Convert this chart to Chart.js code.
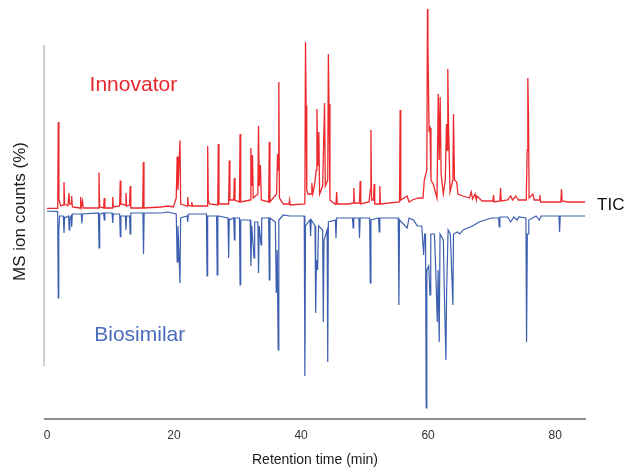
<!DOCTYPE html>
<html>
<head>
<meta charset="utf-8">
<script src="https://cdn.jsdelivr.net/npm/chart.js@4.4.1/dist/chart.umd.min.js"></script>
<style>
    body { margin: 0; background: #ffffff; }
    #wrap { width: 639px; height: 474px; }
</style>
</head>
<body>
<div id="wrap"><canvas id="tic" width="639" height="474"></canvas></div>
<script>

// retention time (min) and TIC signal (% of scale)
const innovatorTime = [
    0.0, 1.6, 1.7, 1.78, 1.88, 2.2, 2.58, 2.68, 2.78, 3.3, 3.46, 3.58, 3.79, 3.89, 4.0,
    5.2, 5.3, 5.4, 5.5, 5.6, 5.7, 8.09, 8.19, 8.29, 8.92, 9.02, 9.12, 10.25, 10.35, 10.45,
    11.44, 11.54, 11.64, 12.34, 12.44, 12.54, 13.0, 13.1, 13.2, 15.07, 15.17, 15.27,
    18.0, 19.0, 19.9, 20.35, 20.5, 20.62, 20.94, 21.05, 22.06, 22.16, 22.26, 22.7, 22.8, 22.9,
    25.2, 25.3, 25.4, 25.6, 26.88, 26.98, 27.08, 28.6, 28.7, 28.8, 29.4, 29.5, 29.6,
    30.3, 30.4, 30.5, 32.0, 32.1, 32.22, 32.35, 32.47, 33.2, 33.3, 33.42, 33.6, 33.75,
    34.9, 35.0, 35.1, 36.15, 36.3, 36.42, 36.5, 36.6, 37.2, 38.1, 38.2, 38.3,
    40.6, 40.7, 40.8, 40.9, 41.1, 41.6, 41.7, 41.85, 42.1, 42.4, 42.5, 42.63, 42.8, 42.92,
    43.4, 43.7, 43.82, 44.2, 44.3, 44.4, 44.55, 45.3, 45.5, 45.6, 45.7, 47.5,
    48.2, 48.3, 48.4, 49.2, 49.3, 49.4, 50.7, 50.9, 51.0, 51.1, 51.4, 51.5, 51.6,
    52.3, 52.4, 52.5, 55.5, 55.6, 55.7, 56.7, 57.0, 57.5, 58.5, 59.2, 59.4, 59.8,
    59.9, 59.97, 60.15, 60.3, 60.45, 60.8, 61.4, 61.6, 61.75, 61.9, 62.05, 62.4, 62.7,
    62.9, 63.0, 63.1, 63.22, 63.45, 63.9, 64.0, 64.15, 64.5, 64.7, 65.5, 66.5,
    66.8, 67.0, 67.4, 67.6, 67.7, 68.5, 70.2, 70.3, 70.4, 71.3, 71.4, 71.5,
    72.5, 73.0, 73.3, 73.8, 74.2, 75.45, 75.6, 75.7, 75.8, 75.9, 76.5, 76.7,
    77.5, 77.6, 77.7, 80.9, 81.0, 81.1, 82.0, 84.7
];
const innovatorSignal = [
    0.8, 0.8, 5, 44, 5, 2, 2.5, 14, 3, 2, 8.5, 3, 3, 7, 1.5,
    1, 6.5, 1.5, 1.5, 4.5, 1, 1, 18.7, 1.5, 1, 6, 1, 1, 6.5, 1.5,
    2, 14.7, 3, 2.5, 8.5, 2, 2.5, 12, 1, 1, 24, 1,
    1.5, 2, 1.5, 6, 26.7, 10, 34.7, 3, 2, 6.5, 2.5, 2, 4, 2,
    2, 32, 5, 3, 2.5, 33, 3, 3, 24.7, 5, 5, 16, 5,
    4, 38, 4, 5, 31, 12, 27.5, 6, 8, 42, 12, 22.5, 5,
    4, 34, 4, 8, 28, 20, 64, 6, 3, 3, 5, 2.5,
    3, 84, 52, 10, 8, 8, 13.5, 8, 12, 20, 50.5, 22, 39, 8,
    12, 53.5, 12, 15, 78, 53, 5, 3, 3, 9, 3, 3,
    3.5, 11, 3.5, 3.5, 14.5, 3, 4, 10, 40, 5, 5, 13, 3,
    3, 12, 3, 4, 50, 5, 7, 4, 5, 6, 6, 15, 20,
    100.5, 82, 40, 41, 15, 13, 6, 58, 25, 56.5, 18, 8, 15,
    43, 30, 70.5, 43, 9, 15, 48, 15, 14, 8, 7, 6,
    9, 5.5, 8, 5, 7, 4.5, 4.5, 7.5, 4, 4.5, 11, 4.5,
    5, 7, 5, 7, 5, 5, 30, 66, 48, 6, 8, 5,
    5, 7.5, 4, 4, 10.5, 4.5, 4, 4
];

const biosimilarTime = [
    0.0, 1.68, 1.78, 1.86, 1.98, 2.58, 2.68, 2.78, 3.4, 3.5, 3.6, 3.79, 3.89, 3.99,
    5.4, 5.5, 5.6, 8.1, 8.2, 8.3, 8.92, 9.02, 9.12, 10.25, 10.35, 10.45,
    11.44, 11.54, 11.64, 12.34, 12.44, 12.54, 13.0, 13.1, 13.2, 15.1, 15.2, 15.3,
    18.0, 19.0, 20.35, 20.5, 20.62, 20.94, 21.04, 22.06, 22.16, 22.26,
    25.1, 25.2, 25.3, 26.7, 26.8, 26.9, 28.5, 28.6, 28.7, 29.4, 29.5, 29.6,
    30.3, 30.4, 30.5, 32.0, 32.1, 32.25, 32.6, 32.7, 33.2, 33.3, 33.42, 33.7, 33.8,
    34.9, 35.0, 35.1, 35.95, 36.1, 36.25, 36.4, 36.5, 37.2, 38.2,
    40.5, 40.6, 40.7, 41.4, 41.5, 41.6, 42.2, 42.3, 42.42, 42.6, 42.75,
    43.4, 43.5, 43.62, 44.1, 44.2, 44.3, 45.4, 45.5, 45.6,
    48.1, 48.2, 48.3, 49.1, 49.2, 49.3, 50.8, 50.9, 51.0, 52.2, 52.3, 52.4,
    55.3, 55.4, 55.5, 56.7, 57.0, 57.7, 58.3, 59.0, 59.3, 59.45, 59.6, 59.7, 59.8,
    60.1, 60.3, 60.42, 61.0, 61.2, 61.45, 61.58, 61.75, 61.88, 62.4, 62.6, 62.8, 62.92,
    63.15, 63.5, 63.9, 64.0, 64.6, 65.0, 65.5, 66.2, 67.0, 68.0, 69.0, 70.0,
    71.1, 71.2, 71.3, 72.5, 73.0, 73.5, 74.0, 74.3, 75.4, 75.5, 75.62, 75.75, 75.85,
    77.0, 77.5, 77.8, 80.6, 80.7, 80.8, 84.7
];
const biosimilarSignal = [
    -0.5, -0.8, -44, -11, -3, -3, -11.5, -4, -3, -10, -4, -3, -8.3, -2,
    -2, -6.7, -2, -1.5, -19, -2, -1.5, -5, -1.5, -1.5, -6.5, -2,
    -2, -13.3, -3, -3, -10, -3, -3, -12, -1.5, -1.5, -22, -1.5,
    -1.5, -1, -2, -26, -8, -36.5, -4, -3, -6, -2,
    -2, -33, -3, -3, -32.5, -3, -4, -24, -5, -4, -15, -4,
    -4, -37.5, -5, -5, -28, -8, -24, -6, -6, -31.5, -8, -17.5, -4,
    -4, -35, -4, -6, -41.5, -20, -70, -5, -2.5, -3,
    -3, -83, -8, -5, -13, -5, -8, -51.5, -25, -30, -8,
    -10, -56, -15, -10, -76, -6, -5, -14, -4,
    -4, -9, -4, -4, -14, -4, -4, -36.5, -5, -4, -11, -4,
    -4, -47.5, -5, -9, -4, -5, -8, -8, -22.5, -12, -12, -99, -30,
    -28, -42.5, -12, -12, -30, -56, -30, -66, -12, -15, -47.5, -75, -40,
    -10, -12, -47.5, -12, -11, -12, -10, -9, -8, -6, -5, -4,
    -4, -8.5, -3.5, -3.5, -6, -3.5, -5, -3.5, -4, -66, -12, -12, -5,
    -3, -5, -3, -3, -11, -3, -3
];

const xTicks = [0, 20, 40, 60, 80];

function toPoints(times, values) {
    return times.map((t, i) => ({ x: t, y: values[i] }));
}

// labels and the short left axis line, placed in data units
const labelsPlugin = {
    id: 'ticLabels',
    afterDraw(chart) {
        const c = chart.ctx;
        const x = chart.scales.x;
        const y = chart.scales.y;

        c.save();
        c.strokeStyle = '#bdbdbd';
        c.lineWidth = 1.5;
        c.beginPath();
        c.moveTo(x.getPixelForValue(-0.45), y.getPixelForValue(82.5));
        c.lineTo(x.getPixelForValue(-0.45), y.getPixelForValue(-78));
        c.stroke();

        c.textBaseline = 'middle';
        c.font = '21px "Liberation Sans", Arial, sans-serif';
        c.fillStyle = '#e8262b';
        c.textAlign = 'center';
        c.fillText('Innovator', x.getPixelForValue(13.6), y.getPixelForValue(62.5));

        c.fillStyle = '#4a6cbc';
        c.fillText('Biosimilar', x.getPixelForValue(14.6), y.getPixelForValue(-62.5));

        c.fillStyle = '#111111';
        c.font = '17px "Liberation Sans", Arial, sans-serif';
        c.textAlign = 'left';
        c.fillText('TIC', x.getPixelForValue(86.6), y.getPixelForValue(2.5));
        c.restore();
    }
};

function build_mirror_chart(ctx) {

    Chart.defaults.plugins.legend.display = false;
    new Chart(ctx, {
        type: 'line',
        data: {
            datasets: [
                {
                    label: 'Innovator',
                    data: toPoints(innovatorTime, innovatorSignal),
                    borderColor: '#ec2a2e',
                    borderWidth: 1.3,
                    pointRadius: 0,
                    tension: 0
                },
                {
                    label: 'Biosimilar',
                    data: toPoints(biosimilarTime, biosimilarSignal),
                    borderColor: '#3d5fb0',
                    borderWidth: 1.2,
                    pointRadius: 0,
                    tension: 0
                }
            ]
        },
        options: {
            responsive: false,
            animation: false,
            layout: {
                padding: { left: 0, right: 54, top: 4, bottom: 0 }
            },
            plugins: {
                legend: { display: false },
                tooltip: { enabled: false }
            },
            scales: {
                x: {
                    type: 'linear',
                    min: -0.31,
                    max: 84.7,
                    afterBuildTicks: (s) => { s.ticks = xTicks.map(v => ({ value: v })); },
                    afterFit: (s) => { s.height = 55; },
                    grid: { display: false, drawTicks: false, tickLength: 0 },
                    border: { display: true, color: '#8e8e8e', width: 2 },
                    ticks: {
                        padding: 9,
                        color: '#333333',
                        font: { family: '"Liberation Sans", Arial, sans-serif', size: 12 }
                    },
                    title: {
                        display: true,
                        text: 'Retention time (min)',
                        color: '#1a1a1a',
                        padding: { top: 0, bottom: 5 },
                        font: { family: '"Liberation Sans", Arial, sans-serif', size: 14 }
                    }
                },
                y: {
                    min: -104.5,
                    max: 103,
                    afterFit: (s) => { s.width = 45; },
                    grid: { display: false },
                    border: { display: false },
                    ticks: { display: false },
                    title: {
                        display: true,
                        text: 'MS ion counts (%)',
                        color: '#1a1a1a',
                        padding: { top: 10, bottom: 0 },
                        font: { family: '"Liberation Sans", Arial, sans-serif', size: 17 }
                    }
                }
            }
        },
        plugins: [labelsPlugin]
    });

}

build_mirror_chart(document.getElementById('tic').getContext('2d'));
</script>
</body>
</html>
